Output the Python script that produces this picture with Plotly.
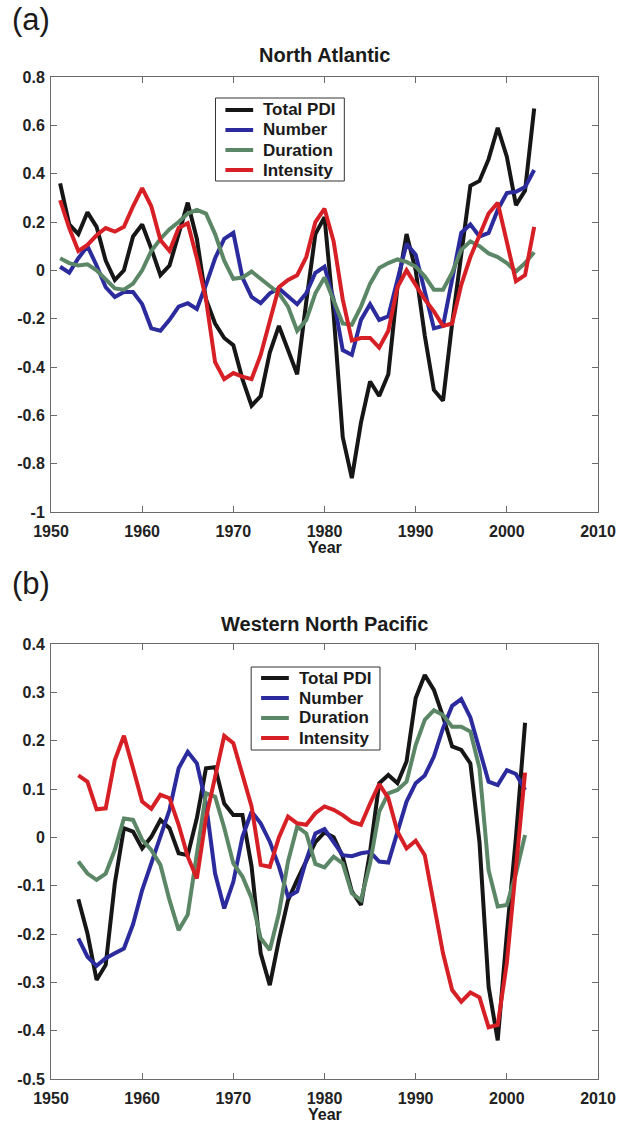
import plotly.graph_objects as go

# ---------------- data ----------------
na_years = list(range(1951, 2004))
na_total = [0.36, 0.19, 0.15, 0.24, 0.18, 0.04, -0.04, 0.00, 0.14, 0.19,
            0.09, -0.02, 0.02, 0.15, 0.28, 0.13, -0.12, -0.22, -0.28, -0.31,
            -0.45, -0.56, -0.52, -0.34, -0.23, -0.33, -0.43, -0.13, 0.15, 0.22,
            -0.18, -0.69, -0.86, -0.63, -0.46, -0.52, -0.43, -0.07, 0.15, 0.00,
            -0.27, -0.495, -0.54, -0.22, 0.07, 0.35, 0.37, 0.46, 0.59, 0.47,
            0.27, 0.33, 0.67]
na_number = [0.015, -0.01, 0.05, 0.10, 0.02, -0.07, -0.11, -0.09, -0.09, -0.14,
             -0.24, -0.25, -0.205, -0.15, -0.136, -0.16, -0.06, 0.05, 0.13, 0.155,
             -0.03, -0.11, -0.136, -0.095, -0.075, -0.11, -0.14, -0.095, -0.01, 0.015,
             -0.12, -0.33, -0.35, -0.205, -0.14, -0.205, -0.19, -0.04, 0.11, 0.065,
             -0.08, -0.24, -0.23, -0.04, 0.155, 0.19, 0.14, 0.155, 0.25, 0.32,
             0.325, 0.345, 0.415]
na_duration = [0.05, 0.03, 0.02, 0.025, 0.00, -0.04, -0.075, -0.08, -0.055, 0.00,
               0.08, 0.13, 0.17, 0.20, 0.235, 0.25, 0.235, 0.15, 0.04, -0.035,
               -0.03, -0.005, -0.035, -0.06, -0.095, -0.15, -0.25, -0.205, -0.095, -0.03,
               -0.12, -0.22, -0.225, -0.15, -0.055, 0.01, 0.03, 0.045, 0.035, 0.015,
               -0.025, -0.08, -0.08, -0.01, 0.085, 0.12, 0.10, 0.07, 0.055, 0.03,
               -0.005, 0.03, 0.075]
na_intensity = [0.29, 0.175, 0.08, 0.105, 0.145, 0.175, 0.16, 0.18, 0.265, 0.34,
                0.265, 0.125, 0.08, 0.175, 0.195, 0.05, -0.12, -0.38, -0.45, -0.425,
                -0.44, -0.45, -0.35, -0.205, -0.07, -0.04, -0.02, 0.055, 0.20, 0.255,
                0.12, -0.12, -0.29, -0.28, -0.28, -0.32, -0.25, -0.07, 0.00, -0.06,
                -0.12, -0.17, -0.23, -0.22, -0.06, 0.055, 0.15, 0.235, 0.28, 0.11,
                -0.045, -0.02, 0.18]

wnp_years = list(range(1953, 2003))
wnp_total = [-0.128, -0.199, -0.295, -0.264, -0.095, 0.019, 0.012, -0.023, 0.001, 0.036,
             0.019, -0.033, -0.037, 0.04, 0.143, 0.145, 0.07, 0.046, 0.046, -0.06,
             -0.24, -0.306, -0.212, -0.13, -0.088, -0.047, -0.01, 0.01, 0.0, -0.04,
             -0.112, -0.14, -0.03, 0.112, 0.129, 0.112, 0.157, 0.288, 0.336, 0.305,
             0.25, 0.188, 0.181, 0.153, -0.01, -0.309, -0.42, -0.2, 0.0, 0.237]
wnp_number = [-0.209, -0.247, -0.266, -0.25, -0.24, -0.23, -0.18, -0.109, -0.054, 0.0,
              0.057, 0.143, 0.177, 0.153, 0.07, -0.075, -0.147, -0.092, 0.001, 0.053,
              0.029, -0.009, -0.06, -0.123, -0.112, -0.047, 0.008, 0.017, -0.01, -0.037,
              -0.039, -0.033, -0.03, -0.05, -0.052, 0.01, 0.074, 0.112, 0.128, 0.167,
              0.226, 0.272, 0.286, 0.248, 0.181, 0.115, 0.108, 0.139, 0.131, 0.098]
wnp_duration = [-0.05, -0.075, -0.088, -0.075, -0.026, 0.039, 0.036, -0.005, -0.026, -0.057,
                -0.13, -0.192, -0.16, -0.033, 0.091, 0.084, 0.02, -0.054, -0.081, -0.126,
                -0.209, -0.233, -0.157, -0.05, 0.022, 0.008, -0.055, -0.062, -0.04, -0.054,
                -0.116, -0.13, -0.054, 0.053, 0.091, 0.098, 0.115, 0.191, 0.243, 0.263,
                0.253, 0.229, 0.229, 0.219, 0.143, -0.068, -0.143, -0.14, -0.075, 0.005]
wnp_intensity = [0.128, 0.115, 0.058, 0.06, 0.16, 0.21, 0.143, 0.074, 0.059, 0.088,
                 0.081, 0.026, -0.04, -0.085, 0.04, 0.125, 0.21, 0.195, 0.133, 0.064,
                 -0.057, -0.061, 0.0, 0.043, 0.029, 0.026, 0.05, 0.064, 0.057, 0.046,
                 0.032, 0.026, 0.07, 0.11, 0.081, 0.012, -0.023, -0.007, -0.037, -0.137,
                 -0.24, -0.316, -0.34, -0.321, -0.331, -0.393, -0.388, -0.26, -0.06, 0.134]

series_names = ["Total PDI", "Number", "Duration", "Intensity"]
x_tickvals = [1950, 1960, 1970, 1980, 1990, 2000, 2010]
x_ticktext = ["1950", "1960", "1970", "1980", "1990", "2000", "2010"]
na_y_tickvals = [-1, -0.8, -0.6, -0.4, -0.2, 0, 0.2, 0.4, 0.6, 0.8]
na_y_ticktext = ["-1", "-0.8", "-0.6", "-0.4", "-0.2", "0", "0.2", "0.4", "0.6", "0.8"]
wnp_y_tickvals = [-0.5, -0.4, -0.3, -0.2, -0.1, 0, 0.1, 0.2, 0.3, 0.4]
wnp_y_ticktext = ["-0.5", "-0.4", "-0.3", "-0.2", "-0.1", "0", "0.1", "0.2", "0.3", "0.4"]

# ---------------- style ----------------
colors = ["#161616", "#2b2b9e", "#5b8767", "#d71f26"]
FONT = "Liberation Sans, Arial, Helvetica, sans-serif"
W, H = 628, 1124
ML, MR, MT, MB = 51, 25, 77, 45
plot_h = H - MT - MB
plot_w = W - ML - MR


def py(p):  # pixel y (from top) -> paper y
    return (H - MB - p) / plot_h


def px_(p):  # pixel x -> paper x
    return (p - ML) / plot_w


fig = go.Figure()
for name, vals, c in zip(series_names, [na_total, na_number, na_duration, na_intensity], colors):
    fig.add_trace(go.Scatter(x=na_years, y=vals, mode="lines", name=name,
                             line=dict(color=c, width=4), xaxis="x", yaxis="y",
                             showlegend=False))
for name, vals, c in zip(series_names, [wnp_total, wnp_number, wnp_duration, wnp_intensity], colors):
    fig.add_trace(go.Scatter(x=wnp_years, y=vals, mode="lines", name=name,
                             line=dict(color=c, width=4), xaxis="x2", yaxis="y2",
                             showlegend=False))

axis_common = dict(showline=True, linecolor="#6a6a6a", linewidth=1, mirror="ticks",
                   ticks="inside", ticklen=6, tickcolor="#6a6a6a", showgrid=False,
                   zeroline=False,
                   tickfont=dict(family=FONT, size=16, color="#222", weight="bold"))

top_dom = [py(512), py(77)]
bot_dom = [py(1079), py(644)]

fig.update_layout(
    width=W, height=H,
    margin=dict(l=ML, r=MR, t=MT, b=MB),
    paper_bgcolor="white", plot_bgcolor="white",
    showlegend=False,
    xaxis=dict(domain=[0, 1], range=[1950, 2010], tickvals=x_tickvals, ticktext=x_ticktext,
               anchor="y", ticklabelstandoff=5, **axis_common),
    yaxis=dict(domain=top_dom, range=[-1, 0.8], tickvals=na_y_tickvals, ticktext=na_y_ticktext,
               anchor="x", ticklabelstandoff=2, **axis_common),
    xaxis2=dict(domain=[0, 1], range=[1950, 2010], tickvals=x_tickvals, ticktext=x_ticktext,
                anchor="y2", ticklabelstandoff=5, **axis_common),
    yaxis2=dict(domain=bot_dom, range=[-0.5, 0.4], tickvals=wnp_y_tickvals, ticktext=wnp_y_ticktext,
                anchor="x2", ticklabelstandoff=2, **axis_common),
)

ann = []
shapes = []


def text(t, x, y, size, bold=True, xanchor="center"):
    f = dict(family=FONT, size=size, color="#1a1a1a")
    if bold:
        f["weight"] = "bold"
    ann.append(dict(text=t, x=px_(x), y=py(y), xref="paper", yref="paper",
                    xanchor=xanchor, yanchor="middle", showarrow=False, font=f))


# panel labels and titles
text("(a)", 31, 19, 31, bold=False)
text("(b)", 31, 583, 31, bold=False)
text("North Atlantic", 327, 55, 20)
text("Western North Pacific", 327, 624, 20)
text("Year", 327, 547, 16)
text("Year", 327, 1114, 16)


def legend_box(left, top, right, bottom, row0, dy, sx0, sx1, tx):
    shapes.append(dict(type="rect", xref="paper", yref="paper",
                       x0=px_(left), x1=px_(right), y0=py(bottom), y1=py(top),
                       line=dict(color="#333", width=1), fillcolor="white", layer="above"))
    for i, (name, c) in enumerate(zip(series_names, colors)):
        yy = row0 + i * dy
        shapes.append(dict(type="line", xref="paper", yref="paper",
                           x0=px_(sx0), x1=px_(sx1), y0=py(yy), y1=py(yy),
                           line=dict(color=c, width=4), layer="above"))
        text(name, tx, yy, 17, xanchor="left")


legend_box(217, 98, 347, 181, 110, 20, 227, 255, 263)
legend_box(253, 667, 383, 750, 678, 20, 263, 291, 299)

fig.update_layout(annotations=ann, shapes=shapes)

fig.write_html("out.html")
